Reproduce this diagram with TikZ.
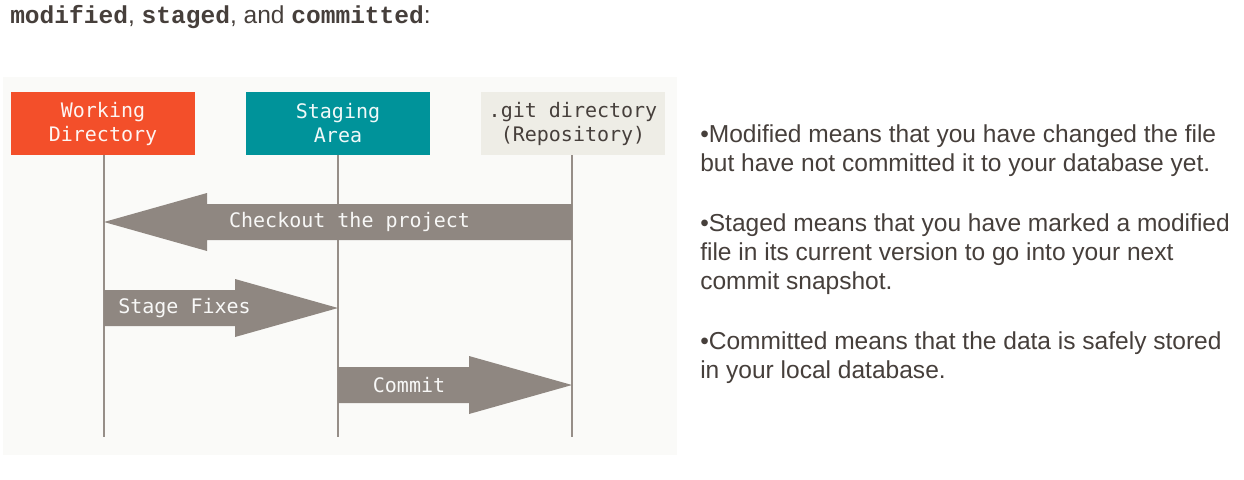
\documentclass[tikz,border=0pt]{standalone}
\usepackage{fontspec}
\setmainfont{Liberation Sans}
\newfontfamily\boxfont{DejaVu Sans Mono}
\newfontfamily\codefont{Liberation Mono}
\usepackage{tikz}
\usetikzlibrary{calc}

\definecolor{gitorange}{HTML}{F34F2A}
\definecolor{gitteal}{HTML}{00939A}
\definecolor{gitpale}{HTML}{EEEDE6}
\definecolor{flowgray}{HTML}{8F8781}
\definecolor{linegray}{HTML}{968E88}
\definecolor{panelbg}{HTML}{FAFAF8}
\definecolor{inkdark}{HTML}{463F3B}

\tikzset{
  area/.style={minimum width=184*0.75pt, minimum height=63*0.75pt, inner sep=0pt, align=center,
    font=\boxfont\fontsize{15pt}{18pt}\selectfont},
  flow/.style={fill=flowgray},
  flowtext/.style={text=white!94!flowgray, inner sep=0pt, font=\boxfont\fontsize{15pt}{18pt}\selectfont},
  lifeline/.style={draw=linegray, line width=1.2pt},
  notes/.style={anchor=base west, inner sep=0pt, text=inkdark, font=\fontsize{18.4pt}{21.75pt}\selectfont}
}

\begin{document}
\begin{tikzpicture}[x=0.75pt, y=-0.75pt]
    \useasboundingbox[fill=white] (0,0) rectangle (1244,479);
    \node[notes] (title) at (10,23) {{\codefont\bfseries modified}, {\codefont\bfseries staged}, and {\codefont\bfseries committed}:};
    \fill[panelbg] (3,77) rectangle (677,455);
    \node[area, fill=gitorange, text=white!94!gitorange] (wd) at (103,123.5) {Working\\Directory};
    \node[area, fill=gitteal, text=white!94!gitteal] (sa) at (338,123.5) {Staging\\Area};
    \node[area, fill=gitpale, text=inkdark] (repo) at (573,123.5) {.git directory\\(Repository)};
    \coordinate (wdend) at (104,437);
    \coordinate (saend) at (338,437);
    \coordinate (repoend) at (572,437);
    \draw[lifeline] (wd.south -| wdend) -- (wdend);
    \draw[lifeline] (sa.south -| saend) -- (saend);
    \draw[lifeline] (repo.south -| repoend) -- (repoend);
    % checkout
    \coordinate (wd1) at (104,222);
    \coordinate (repo1) at (572,222);
    \fill[flow] (wd1) -- ++(103,-29) -- ++(0,11) -- ($(repo1)+(0,-18)$) -- ($(repo1)+(0,18)$)
        -- ($(wd1)+(103,18)$) -- ++(0,11) -- cycle;
    \node[flowtext] (checkout) at (349.5,222) {Checkout the project};
    % stage fixes
    \coordinate (wd2) at (104,308);
    \coordinate (sa2) at (338,308);
    \fill[flow] ($(wd2)+(0,-18)$) -- ($(sa2)+(-103,-18)$) -- ++(0,-11) -- (sa2)
        -- ($(sa2)+(-103,29)$) -- ++(0,-11) -- ($(wd2)+(0,18)$) -- cycle;
    \node[flowtext, anchor=west] (fixes) at (118,308) {Stage Fixes};
    % commit
    \coordinate (sa3) at (338,385);
    \coordinate (repo3) at (572,385);
    \fill[flow] ($(sa3)+(0,-18)$) -- ($(repo3)+(-103,-18)$) -- ++(0,-11) -- (repo3)
        -- ($(repo3)+(-103,29)$) -- ++(0,-11) -- ($(sa3)+(0,18)$) -- cycle;
    \node[flowtext] (commit) at (409,385) {Commit};
    % notes
    \node[notes] (n1) at (700,142) {\textbullet Modified means that you have changed the file};
    \node[notes] (n2) at (700,171) {but have not committed it to your database yet.};
    \node[notes] (n3) at (700,231) {\textbullet Staged means that you have marked a modified};
    \node[notes] (n4) at (700,260) {file in its current version to go into your next};
    \node[notes] (n5) at (700,289) {commit snapshot.};
    \node[notes] (n6) at (700,349) {\textbullet Committed means that the data is safely stored};
    \node[notes] (n7) at (700,378) {in your local database.};
  \end{tikzpicture}
\end{document}
